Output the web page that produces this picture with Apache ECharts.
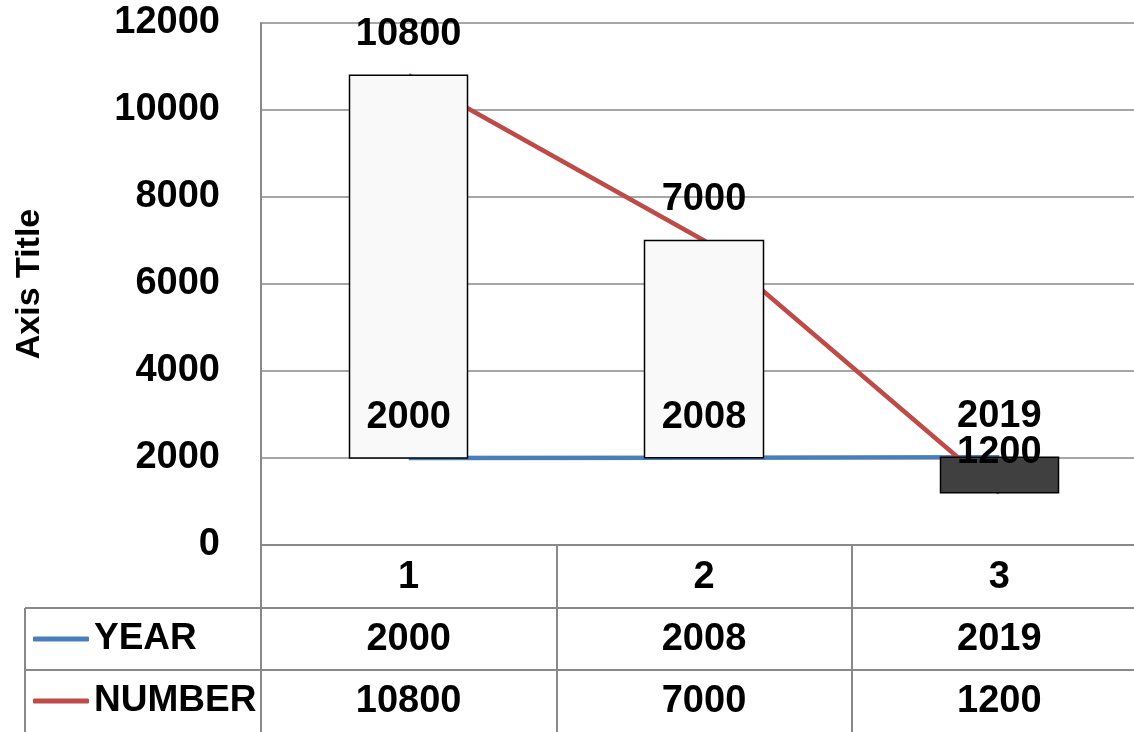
<!DOCTYPE html>
<html>
<head>
<meta charset="utf-8">
<script src="https://cdn.jsdelivr.net/npm/echarts@6/dist/echarts.min.js"></script>
<style>
html,body{margin:0;padding:0;background:#fff;}
#chart{width:1134px;height:732px;}
</style>
</head>
<body>
<div id="chart"></div>
<script>
var categories = ['1', '2', '3'];
var yearValues = [2000, 2008, 2019];
var numberValues = [10800, 7000, 1200];
var yTicks = [0, 2000, 4000, 6000, 8000, 10000, 12000];

var FONT = "'Liberation Sans', Arial, sans-serif";
var GRAY = '#898989';
var BLUE = '#4A7EBB';
var RED = '#BE4B48';

var candleData = categories.map(function (c, i) {
  var o = yearValues[i], cl = numberValues[i];
  return [o, cl, Math.min(o, cl), Math.max(o, cl)];
});

function makeLabel() {
  return {
    show: true, position: 'top', distance: 21, opacity: 1,
    fontFamily: FONT, fontSize: 38, fontWeight: 'bold', color: '#000000'
  };
}

var chart = echarts.init(document.getElementById('chart'), null, {renderer: 'canvas'});
chart.setOption({
  animation: false,
  backgroundColor: '#fff',
  grid: {left: 261, top: 23, width: 886, bottom: 187, containLabel: false, outerBoundsMode: 'none'},
  legend: {
    data: [{name: 'YEAR', icon: 'roundRect'}, {name: 'NUMBER', icon: 'roundRect'}],
    orient: 'vertical', left: 33, top: 608, padding: 0, itemGap: 0,
    itemWidth: 56, itemHeight: 5, selectedMode: false,
    textStyle: {fontFamily: FONT, fontSize: 37, fontWeight: 'bold', color: '#000', lineHeight: 62}
  },
  xAxis: {
    type: 'category', data: categories, boundaryGap: true,
    axisLine: {show: true, lineStyle: {color: GRAY, width: 2}},
    axisTick: {show: true, alignWithLabel: false, length: 187, lineStyle: {color: GRAY, width: 2}},
    axisLabel: {
      margin: 2, fontFamily: FONT, fontSize: 38, fontWeight: 'bold', color: '#000', lineHeight: 62,
      interval: 0,
      formatter: function (val, idx) {
        return val + '\n' + yearValues[idx] + '\n' + numberValues[idx];
      }
    },
    splitLine: {show: false}
  },
  yAxis: {
    type: 'value', min: yTicks[0], max: yTicks[yTicks.length - 1], interval: yTicks[1] - yTicks[0],
    name: 'Axis Title', nameLocation: 'middle', nameRotate: 90, nameGap: 214,
    nameTextStyle: {fontFamily: FONT, fontSize: 34, fontWeight: 'bold', color: '#000'},
    axisLine: {show: true, lineStyle: {color: GRAY, width: 2}},
    axisTick: {show: false},
    axisLabel: {margin: 41, fontFamily: FONT, fontSize: 38, fontWeight: 'bold', color: '#000',
      formatter: function (v) { return String(v); }},
    splitLine: {show: true, lineStyle: {color: GRAY, width: 1.5}}
  },
  graphic: [
    {type: 'line', shape: {x1: 25, y1: 608, x2: 1134, y2: 608}, style: {stroke: GRAY, lineWidth: 2}},
    {type: 'line', shape: {x1: 25, y1: 670, x2: 1134, y2: 670}, style: {stroke: GRAY, lineWidth: 2}},
    {type: 'line', shape: {x1: 25, y1: 608, x2: 25, y2: 732}, style: {stroke: GRAY, lineWidth: 2}}
  ],
  series: [
    {name: 'YEAR', type: 'line', data: yearValues, symbol: 'none', z: 2,
     itemStyle: {color: BLUE}, lineStyle: {color: BLUE, width: 4.5}},
    {name: 'NUMBER', type: 'line', data: numberValues, symbol: 'none', z: 2,
     itemStyle: {color: RED}, lineStyle: {color: RED, width: 4.5}},
    {name: 'updown', type: 'candlestick', data: candleData, barWidth: 119, z: 3,
     itemStyle: {color: '#F9F9F9', color0: '#404040', borderColor: '#000', borderColor0: '#000', borderWidth: 1.5}},
    {name: 'yearLabels', type: 'scatter', data: yearValues, symbolSize: 1, z: 6,
     itemStyle: {color: 'rgba(255,255,255,0)'}, label: makeLabel(), emphasis: {disabled: true}},
    {name: 'numberLabels', type: 'scatter', data: numberValues, symbolSize: 1, z: 6,
     itemStyle: {color: 'rgba(255,255,255,0)'}, label: makeLabel(), emphasis: {disabled: true}}
  ]
});
</script>
</body>
</html>
